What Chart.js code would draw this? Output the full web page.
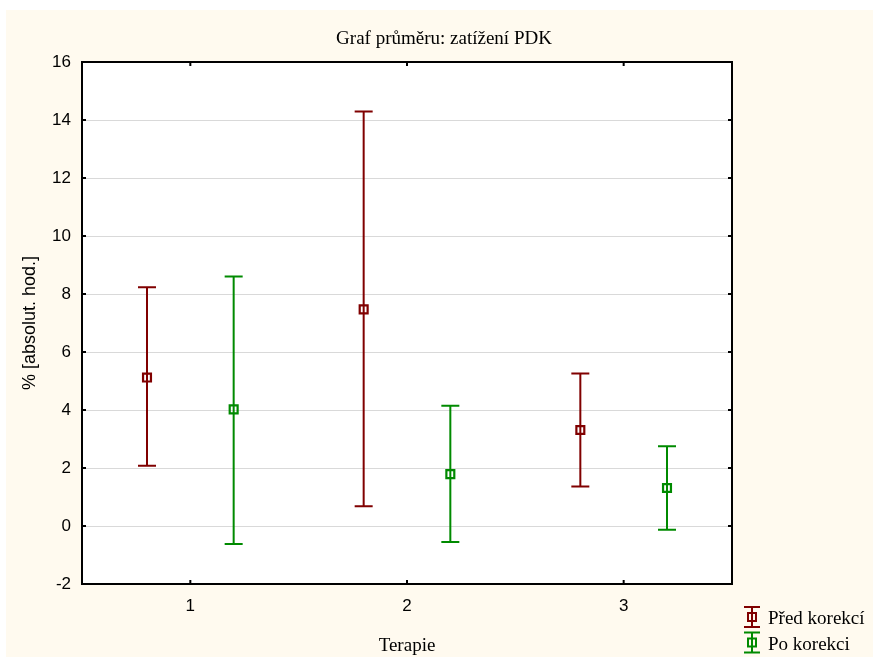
<!DOCTYPE html>
<html>
<head>
<meta charset="utf-8">
<title>Graf průměru: zatížení PDK</title>
<script src="https://cdn.jsdelivr.net/npm/chart.js@4/dist/chart.umd.min.js"></script>
<style>
  body { margin: 0; background: #ffffff; }
  canvas { display: block; }
</style>
</head>
<body>
<canvas id="meansChart" width="873" height="657"></canvas>
<script>
// Therapy groups on the x axis
const categories = ['1', '2', '3'];
const yTicks = [-2, 0, 2, 4, 6, 8, 10, 12, 14, 16];

// Before correction: means with lower / upper interval bounds
const predMean = [5.12, 7.47, 3.31];
const predLow = [2.08, 0.68, 1.36];
const predHigh = [8.23, 14.29, 5.26];

// After correction
const poMean = [4.02, 1.79, 1.31];
const poLow = [-0.62, -0.55, -0.13];
const poHigh = [8.60, 4.15, 2.75];

const SANS = "'Liberation Sans', Arial, sans-serif";
const SERIF = "'Liberation Serif', 'Times New Roman', serif";
const RED = '#800000';
const GREEN = '#008a00';

function series(label, color, shift, mean, low, high) {
    return {
        label: label,
        data: mean.map((m, i) => ({ x: i + 1 + shift, y: m, low: low[i], high: high[i] })),
        borderColor: color,
        backgroundColor: 'rgba(0,0,0,0)',
        pointStyle: 'rect',
        pointRadius: 5.6,
        pointHoverRadius: 5.6,
        pointBorderWidth: 2.2,
        showLine: false
    };
}

function drawWhisker(ctx, x, yTop, yBot, cap, color) {
    ctx.save();
    ctx.strokeStyle = color;
    ctx.lineWidth = 2;
    ctx.beginPath();
    ctx.moveTo(x, yTop);
    ctx.lineTo(x, yBot);
    ctx.moveTo(x - cap, yTop);
    ctx.lineTo(x + cap, yTop);
    ctx.moveTo(x - cap, yBot);
    ctx.lineTo(x + cap, yBot);
    ctx.stroke();
    ctx.restore();
}

const frame = {
    id: 'frame',
    beforeDraw(chart) {
        const { ctx, chartArea: a } = chart;
        ctx.save();
        ctx.fillStyle = '#fffaef';
        ctx.fillRect(6, 10, chart.width - 6, chart.height - 10);
        ctx.fillStyle = '#ffffff';
        ctx.fillRect(a.left, a.top, a.right - a.left, a.bottom - a.top);
        ctx.restore();
    },
    beforeDatasetsDraw(chart) {
        const { ctx, scales: { x, y } } = chart;
        chart.data.datasets.forEach(ds => {
            ds.data.forEach(p => {
                drawWhisker(ctx, x.getPixelForValue(p.x), y.getPixelForValue(p.high),
                    y.getPixelForValue(p.low), 9, ds.borderColor);
            });
        });
    },
    afterDraw(chart) {
        const { ctx, chartArea: a, scales: { x, y } } = chart;
        ctx.save();
        // plot box
        ctx.strokeStyle = '#000000';
        ctx.lineWidth = 2;
        ctx.strokeRect(a.left, a.top, a.right - a.left, a.bottom - a.top);
        // inward tick marks on all four sides
        ctx.beginPath();
        yTicks.forEach(v => {
            const py = y.getPixelForValue(v);
            ctx.moveTo(a.left, py); ctx.lineTo(a.left + 4, py);
            ctx.moveTo(a.right, py); ctx.lineTo(a.right - 4, py);
        });
        categories.forEach((c, i) => {
            const px = x.getPixelForValue(i + 1);
            ctx.moveTo(px, a.top); ctx.lineTo(px, a.top + 4);
            ctx.moveTo(px, a.bottom); ctx.lineTo(px, a.bottom - 4);
        });
        ctx.stroke();

        // title
        ctx.fillStyle = '#000000';
        ctx.font = '19px ' + SERIF;
        ctx.textAlign = 'center';
        ctx.textBaseline = 'middle';
        ctx.fillText('Graf průměru: zatížení PDK', 444, 39);

        // legend
        ctx.textAlign = 'left';
        ctx.textBaseline = 'alphabetic';
        chart.data.datasets.forEach((ds, i) => {
            const cy = 617 + i * 25.5;
            drawWhisker(ctx, 752, cy - 10, cy + 10, 8, ds.borderColor);
            ctx.strokeStyle = ds.borderColor;
            ctx.lineWidth = 2;
            ctx.strokeRect(748, cy - 4, 8, 8);
            ctx.fillStyle = '#000000';
            ctx.fillText(ds.label, 768, cy + 7);
        });
        ctx.restore();
    }
};

new Chart(document.getElementById('meansChart'), {
    type: 'scatter',
    data: {
        datasets: [
            series('Před korekcí', RED, -0.2, predMean, predLow, predHigh),
            series('Po korekci', GREEN, 0.2, poMean, poLow, poHigh)
        ]
    },
    options: {
        responsive: false,
        animation: false,
        events: [],
        layout: { padding: { top: 62, right: 141, bottom: 0, left: 0 } },
        plugins: {
            legend: { display: false },
            tooltip: { enabled: false },
            title: { display: false }
        },
        scales: {
            x: {
                type: 'linear',
                min: 0.5,
                max: 3.5,
                afterBuildTicks: scale => {
                    scale.ticks = categories.map((c, i) => ({ value: i + 1 }));
                },
                afterFit: scale => { scale.height = 73; },
                grid: { display: false, drawTicks: false },
                border: { display: false },
                ticks: {
                    padding: 12,
                    color: '#000000',
                    font: { family: SANS, size: 17 },
                    callback: v => categories[v - 1]
                },
                title: {
                    display: true,
                    text: 'Terapie',
                    color: '#000000',
                    font: { family: SERIF, size: 19 },
                    padding: { top: 0, bottom: 0 }
                }
            },
            y: {
                min: -2,
                max: 16,
                afterBuildTicks: scale => {
                    scale.ticks = yTicks.map(v => ({ value: v }));
                },
                afterFit: scale => { scale.width = 82; },
                grid: { color: '#d9d9d9', lineWidth: 1, drawTicks: false },
                border: { display: false },
                ticks: {
                    padding: 11,
                    color: '#000000',
                    font: { family: SANS, size: 17 }
                },
                title: {
                    display: true,
                    text: '% [absolut. hod.]',
                    color: '#000000',
                    font: { family: SANS, size: 18 },
                    padding: { top: 19, bottom: 0 }
                }
            }
        }
    },
    plugins: [frame]
});
</script>
</body>
</html>
